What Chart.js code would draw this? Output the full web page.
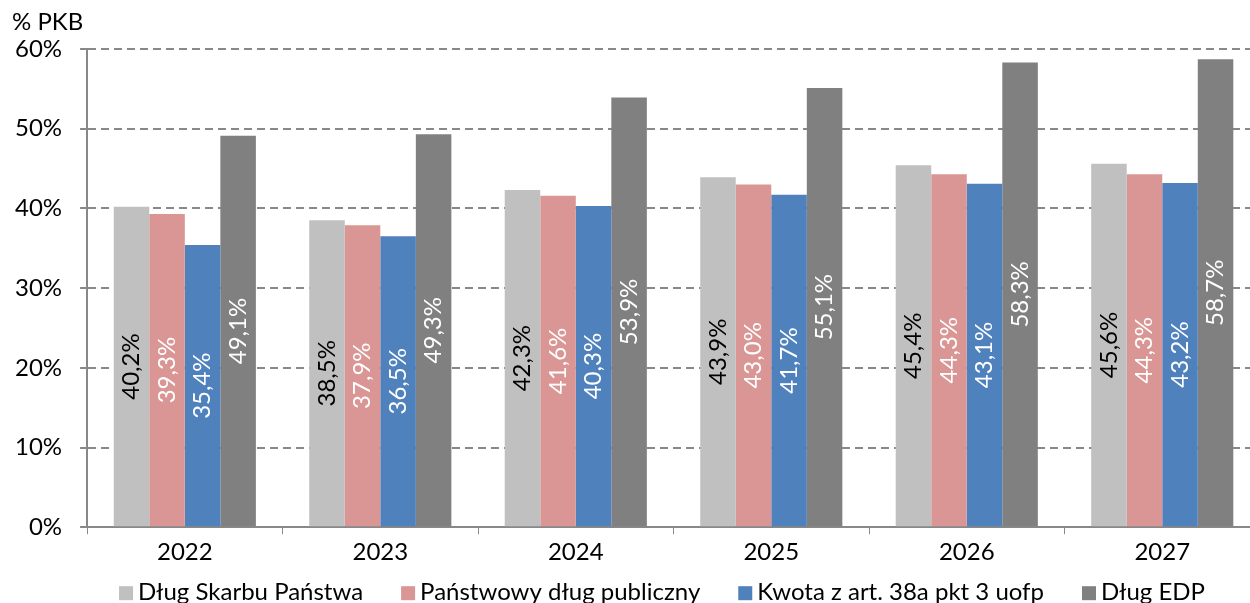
<!DOCTYPE html>
<html>
<head>
<meta charset="utf-8">
<script src="https://cdn.jsdelivr.net/npm/chart.js@4"></script>
<style>
  html, body { margin: 0; padding: 0; background: #fff; overflow: hidden; }
  #wrap { width: 1260px; height: 603px; }
</style>
</head>
<body>
<div id="wrap"><canvas id="debtChart" width="1260" height="603"></canvas></div>
<script>

// lata prognozy
const years = ["2022", "2023", "2024", "2025", "2026", "2027"];

// % PKB
const dlugSP = [40.2, 38.5, 42.3, 43.9, 45.4, 45.6];
const pdp = [39.3, 37.9, 41.6, 43.0, 44.3, 44.3];
const kwota38a = [35.4, 36.5, 40.3, 41.7, 43.1, 43.2];
const dlugEDP = [49.1, 49.3, 53.9, 55.1, 58.3, 58.7];

const yTicks = [0, 10, 20, 30, 40, 50, 60];

const FONT = "Lato, 'Open Sans', sans-serif";
const FS = 24;

function pct(v){
  return v.toFixed(1).replace(".", ",") + "%";
}

// wartosci wpisane pionowo w srodek slupka
const barLabels = {
  id: "barLabels",
  afterDatasetsDraw(chart){
    const ctx = chart.ctx;
    chart.data.datasets.forEach((ds, i) => {
      const meta = chart.getDatasetMeta(i);
      meta.data.forEach((bar, j) => {
        ctx.save();
        ctx.translate(bar.x, (bar.y + bar.base) / 2);
        ctx.rotate(-Math.PI / 2);
        ctx.font = FS + "px " + FONT;
        ctx.fillStyle = ds.labelColor;
        ctx.textAlign = "center";
        ctx.textBaseline = "middle";
        ctx.fillText(pct(ds.data[j]), 0, 0);
        ctx.restore();
      });
    });
  }
};

// jednostka nad osia Y
const unitLabel = {
  id: "unitLabel",
  afterDraw(chart){
    const ctx = chart.ctx;
    ctx.save();
    ctx.font = FS + "px " + FONT;
    ctx.fillStyle = "#000";
    ctx.textAlign = "left";
    ctx.textBaseline = "middle";
    ctx.fillText("% PKB", 12, 22);
    ctx.restore();
  }
};

// legenda pod osia X, w jednym wierszu
const bottomLegend = {
  id: "bottomLegend",
  afterDraw(chart){
    const ctx = chart.ctx;
    const box = 14, gap = 5, spacing = 38;
    const y = chart.chartArea.bottom + 66;
    ctx.save();
    ctx.font = FS + "px " + FONT;
    ctx.textBaseline = "middle";
    ctx.textAlign = "left";
    const items = chart.data.datasets.map(ds => ({
      text: ds.label,
      color: ds.backgroundColor,
      w: box + gap + ctx.measureText(ds.label).width
    }));
    const total = items.reduce((s, it) => s + it.w, 0) + spacing * (items.length - 1);
    let x = 662 - total / 2;
    items.forEach(it => {
      ctx.fillStyle = it.color;
      ctx.fillRect(x, y - box / 2, box, box);
      ctx.fillStyle = "#000";
      ctx.fillText(it.text, x + box + gap, y - 1);
      x += it.w + spacing;
    });
    ctx.restore();
  }
};

const ctx = document.getElementById("debtChart").getContext("2d");

new Chart(ctx, {
  type: "bar",
  data: {
    labels: years,
    datasets: [
      { label: "Dług Skarbu Państwa", data: dlugSP, backgroundColor: "#C0C0C0", labelColor: "#000" },
      { label: "Państwowy dług publiczny", data: pdp, backgroundColor: "#D99694", labelColor: "#fff" },
      { label: "Kwota z art. 38a pkt 3 uofp", data: kwota38a, backgroundColor: "#4F81BD", labelColor: "#fff" },
      { label: "Dług EDP", data: dlugEDP, backgroundColor: "#808080", labelColor: "#fff" }
    ]
  },
  options: {
    responsive: false,
    animation: false,
    devicePixelRatio: 1,
    layout: {
      padding: { left: -3, right: 0, top: 49, bottom: 32 }
    },
    datasets: {
      bar: {
        barPercentage: 1,
        categoryPercentage: 0.727
      }
    },
    plugins: {
      legend: { display: false },
      tooltip: { enabled: false }
    },
    scales: {
      x: {
        grid: {
          offset: true,
          drawOnChartArea: false,
          color: "#888",
          tickLength: 7
        },
        border: { color: "#888", width: 2 },
        ticks: {
          font: { size: FS, family: FONT },
          color: "#000",
          padding: 4
        }
      },
      y: {
        min: 0,
        max: 60,
        afterBuildTicks(axis){
          axis.ticks = yTicks.map(v => ({ value: v }));
        },
        grid: {
          color: "#888",
          lineWidth: 2,
          tickBorderDash: [],
          tickLength: 7
        },
        border: { color: "#888", width: 2, dash: [8, 5] },
        ticks: {
          font: { size: FS, family: FONT },
          color: "#000",
          padding: 18,
          callback: v => v + "%"
        }
      }
    }
  },
  plugins: [barLabels, unitLabel, bottomLegend]
});

</script>
</body>
</html>
